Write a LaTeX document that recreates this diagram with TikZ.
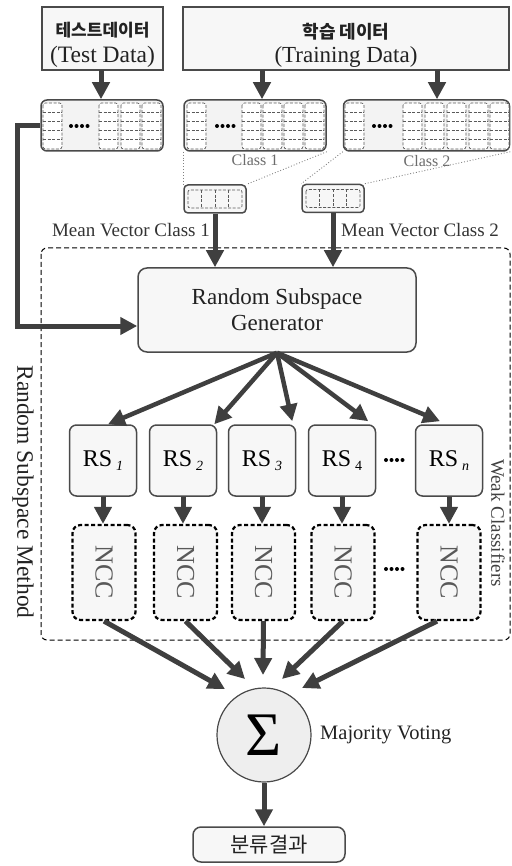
\documentclass[tikz,border=0pt]{standalone}
\usepackage{fontspec}
\setmainfont{Liberation Serif}
\newfontfamily\kr{Noto Sans CJK KR}
\usetikzlibrary{arrows.meta,calc}

\definecolor{boxfill}{HTML}{F7F7F7}
\definecolor{blkfill}{HTML}{F3F3F3}
\definecolor{sumfill}{HTML}{EEEEEE}
\definecolor{arrowc}{HTML}{3F3F3F}
\definecolor{edgec}{HTML}{4A4A4A}
\definecolor{cellc}{HTML}{5A5A5A}
\definecolor{txt}{HTML}{222222}

\newcommand\fsz[1]{\fontsize{#1}{#1}\selectfont}

% one stored column of a data block: five dashed cells
\newcommand\datacol[1]{%
  \draw[cellline, fill=white, rounded corners=2.5pt] (#1,103) rectangle ++(19,46);
  \foreach \k in {1,...,4}{\draw[cellline] (#1,103+9.2*\k) -- ++(19,0);}
}
% four small dots standing for omitted entries
\newcommand\fourdots[2]{%
  \foreach \k in {0,...,3}{\fill[black] (#1+5.5*\k,#2) circle (2pt);}
}
% the mean vector drawn inside its box
\newcommand\meanvec[1]{%
  \draw[cellline, rounded corners=2pt] ($(#1)+(-27,-9)$) rectangle ($(#1)+(27,9)$);
  \foreach \k in {-13.5,0,13.5}{\draw[cellline] ($(#1)+(\k,-9)$) -- ($(#1)+(\k,9)$);}
}

\tikzset{
  cellline/.style={draw=cellc, line width=0.7pt, dash pattern=on 3pt off 1.6pt},
  plainbox/.style={draw=edgec, line width=1.5pt, fill=boxfill, inner sep=0pt},
  roundbox/.style={plainbox, rounded corners=7pt},
  blkbox/.style={draw=edgec, line width=1.5pt, fill=blkfill, rounded corners=6pt,
                 minimum height=51pt, inner sep=0pt},
  rsbox/.style={roundbox, minimum width=67pt, minimum height=71pt, font=\fsz{24}},
  nccbox/.style={draw=black, fill=boxfill, line width=2.2pt, dash pattern=on 4pt off 2.5pt,
                 rounded corners=8pt, minimum width=63pt, minimum height=95pt, inner sep=0pt},
  arr/.style={draw=arrowc, line width=5pt, -{Triangle[length=17pt,width=17pt]}},
  fanarr/.style={draw=arrowc, line width=4.5pt, -{Triangle[length=17pt,width=17pt]}},
  guide/.style={draw=gray, line width=0.9pt, dotted},
  lbl/.style={text=txt, inner sep=0pt},
}

\begin{document}
\begin{tikzpicture}[x=1pt,y=-1pt]
\useasboundingbox (0,0) rectangle (511,866);

% ---- input data ----
\node[plainbox, minimum width=121pt, minimum height=63pt] (tdata) at (102.5,38.5) {};
\node[lbl, font={\kr\bfseries\fsz{17}}] (tdatak) at (102.5,30) {테스트데이터};
\node[lbl, font=\fsz{23.5}] (tdatae) at (102.5,57) {(Test Data)};

\node[plainbox, minimum width=326pt, minimum height=63pt] (trdata) at (346,38.5) {};
\node[lbl, font={\kr\bfseries\fsz{18}}] (trdatak) at (346,32) {학습 데이터};
\node[lbl, font=\fsz{23}] (trdatae) at (346,57) {(Training Data)};

% ---- data blocks ----
\node[blkbox, minimum width=122pt] (tblk) at (102,125.5) {};
\node[blkbox, minimum width=142pt] (c1blk) at (255,125.5) {};
\node[blkbox, minimum width=166pt] (c2blk) at (426.5,125.5) {};

\foreach \x in {43,99,121,142} {\datacol{\x}}
\fourdots{71}{126}
\foreach \x in {187,242,263,284,305} {\datacol{\x}}
\fourdots{217}{126}
\foreach \x in {345,403,425,447,469,490} {\datacol{\x}}
\fourdots{374}{126}

\node[lbl, text=gray!85!black, font=\fsz{16}] (c1lbl) at (255,160) {Class 1};
\node[lbl, text=gray!85!black, font=\fsz{16}] (c2lbl) at (427,161) {Class 2};

% ---- mean vectors ----
\node[roundbox, rounded corners=4pt, minimum width=62pt, minimum height=28pt] (mv1) at (215,199) {};
\node[roundbox, rounded corners=4pt, minimum width=62pt, minimum height=28pt] (mv2) at (333,198.5) {};
\meanvec{mv1}
\meanvec{mv2}

\draw[guide] (c1blk.south west) -- (mv1.north west);
\draw[guide] (c1blk.south east) -- (mv1.north east);
\draw[guide] (c2blk.south west) -- (mv2.north west);
\draw[guide] (c2blk.south east) -- (mv2.north east);

\coordinate (ta) at (101,70);
\draw[arr] (ta) -- (ta |- tblk.north);
\coordinate (tra1) at (262,70);
\coordinate (tra2) at (437,70);
\draw[arr] (tra1) -- (tra1 |- c1blk.north);
\draw[arr] (tra2) -- (tra2 |- c2blk.north);

\node[lbl, anchor=east, text=black!80, font=\fsz{19}] (mvl1) at (210,230) {Mean Vector Class 1};
\node[lbl, anchor=west, text=black!80, font=\fsz{19}] (mvl2) at (341,230) {Mean Vector Class 2};

% ---- random subspace method frame ----
\draw[black, line width=1pt, dash pattern=on 5pt off 3pt, rounded corners=6pt]
  (41,248) rectangle (510,640);
\node[lbl, rotate=-90, font=\fsz{23.5}] (rsm) at (23,492) {Random Subspace Method};
\node[lbl, rotate=-90, text=black!75, font=\fsz{19}] (weak) at (498,523) {Weak Classifiers};

\node[roundbox, rounded corners=9pt, minimum width=278pt, minimum height=84pt,
      align=center, font=\fsz{23}, text=txt] (rsg) at (277,310)
      {Random Subspace\\[3pt]Generator};

\draw[arr] (mv1.south) -- (mv1.south |- rsg.north);
\draw[arr] (mv2.south) -- (mv2.south |- rsg.north);

\coordinate (tbend) at (17,326);
\draw[arr] (tblk.west) -| (tbend) -- (tbend -| rsg.west);

% ---- random subspaces ----
\node[rsbox] (rs1) at (103,460.5) {RS\,\raisebox{-4pt}{\fsz{14}\itshape 1}};
\node[rsbox] (rs2) at (183,460.5) {RS\,\raisebox{-4pt}{\fsz{14}\itshape 2}};
\node[rsbox] (rs3) at (262,460.5) {RS\,\raisebox{-4pt}{\fsz{14}\itshape 3}};
\node[rsbox] (rs4) at (342,460.5) {RS\,\raisebox{-4pt}{\fsz{14}4}};
\node[rsbox] (rsn) at (449,460.5) {RS\,\raisebox{-4pt}{\fsz{14}\itshape n}};
\fourdots{386}{460}

\draw[fanarr] (rsg.south) -- ($(rs1.north)+(5,0)$);
\draw[fanarr] (rsg.south) -- ($(rs2.north east)+(-3,0)$);
\draw[fanarr] (rsg.south) -- ($(rs3.north east)+(-4,-3)$);
\draw[fanarr] (rsg.south) -- ($(rs4.north east)+(-8,-3)$);
\draw[fanarr] (rsg.south) -- ($(rsn.north)+(-9,-3)$);

% ---- nearest centroid classifiers ----
\foreach \n/\x in {1/104,2/185.5,3/263.5,4/343,n/449} {
  \node[nccbox] (ncc\n) at (\x,572.5) {};
  \node[lbl, rotate=-90, text=black!65, font=\fsz{26}] (ncct\n) at (ncc\n) {NCC};
}
\fourdots{386}{569}

\foreach \n in {1,2,3,4,n} {
  \draw[arr] (rs\n.south) -- (rs\n.south |- ncc\n.north);
}

% ---- majority voting ----
\node[circle, draw=edgec, line width=1.2pt, fill=sumfill, minimum size=94pt, inner sep=0pt,
      font=\fsz{62}] (sum) at (264,735) {\raisebox{-2pt}{Σ}};
\node[lbl, anchor=west, font=\fsz{20.5}] (mvote) at (320,735) {Majority Voting};

\draw[arr] (ncc1.south) -- ($(sum)+(-39,-46)$);
\draw[arr] (ncc2.south) -- ($(sum)+(-19,-56)$);
\draw[arr] (ncc3.south) -- ($(sum)+(-1,-60)$);
\draw[arr] (ncc4.south) -- ($(sum)+(18,-56)$);
\draw[arr] ($(nccn.south)+(-12,0)$) -- ($(sum)+(38,-47)$);

% ---- result ----
\node[roundbox, rounded corners=8pt, minimum width=152pt, minimum height=35pt,
      font={\kr\fsz{21}}, text=txt] (result) at (269,844.5) {분류결과};
\draw[arr] (sum.south) -- (sum.south |- result.north);

\end{tikzpicture}
\end{document}
